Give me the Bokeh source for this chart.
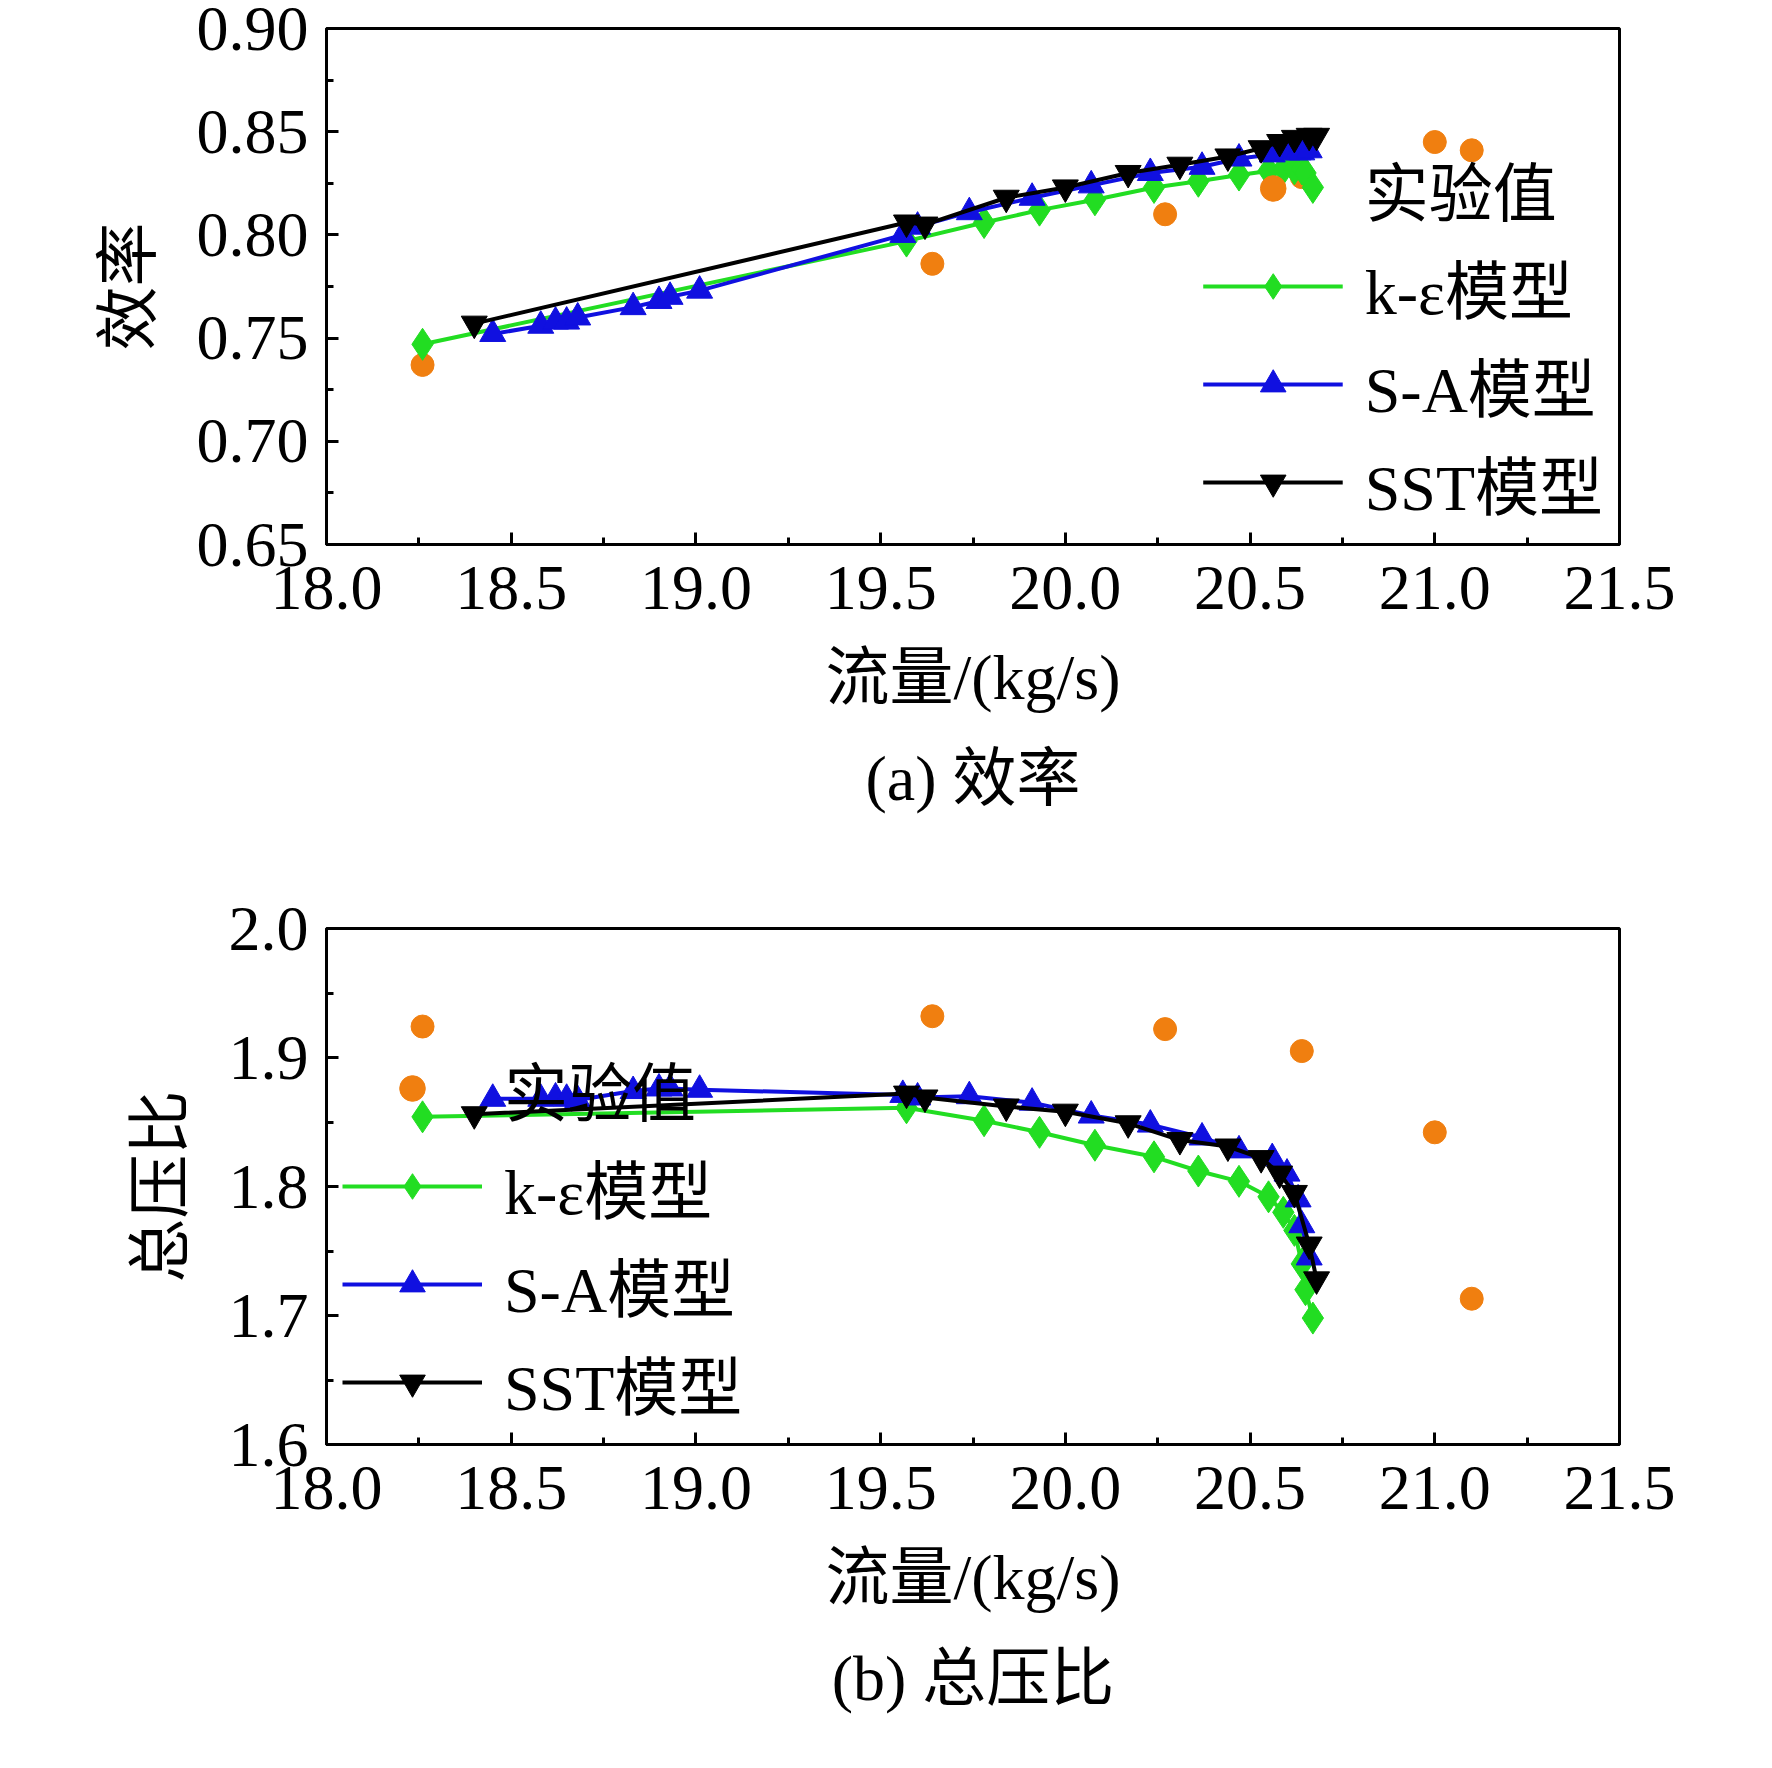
from bokeh.plotting import figure
from bokeh.layouts import column
from bokeh.models import Legend, LegendItem, Title, NumeralTickFormatter, FixedTicker
from bokeh.embed import file_html
from bokeh.resources import INLINE

exp_x = [18.26, 19.64, 20.27, 20.64, 21.0, 21.1]
exp_eff = [0.737, 0.786, 0.810, 0.828, 0.845, 0.841]
exp_pr = [1.924, 1.932, 1.922, 1.905, 1.842, 1.713]

ke_x = [18.26, 19.57, 19.78, 19.93, 20.08, 20.24, 20.36, 20.47, 20.55, 20.59, 20.62, 20.64, 20.65, 20.67]
ke_eff = [0.747, 0.797, 0.806, 0.812, 0.817, 0.823, 0.826, 0.829, 0.831, 0.832, 0.832, 0.832, 0.830, 0.823]
ke_pr = [1.854, 1.861, 1.851, 1.842, 1.832, 1.823, 1.812, 1.804, 1.792, 1.780, 1.766, 1.740, 1.720, 1.698]

sa_x = [18.45, 18.58, 18.62, 18.65, 18.68, 18.83, 18.90, 18.93, 19.01, 19.56, 19.60, 19.74, 19.91, 20.07, 20.23, 20.37, 20.47, 20.56, 20.60, 20.63, 20.64, 20.66]
sa_eff = [0.752, 0.756, 0.758, 0.758, 0.760, 0.765, 0.768, 0.770, 0.773, 0.800, 0.804, 0.811, 0.818, 0.824, 0.830, 0.833, 0.837, 0.839, 0.840, 0.840, 0.840, 0.841]
sa_pr = [1.868, 1.868, 1.869, 1.868, 1.867, 1.874, 1.876, 1.876, 1.875, 1.871, 1.869, 1.870, 1.865, 1.855, 1.848, 1.838, 1.828, 1.822, 1.810, 1.790, 1.770, 1.745]

sst_x = [18.40, 19.57, 19.62, 19.84, 20.00, 20.17, 20.31, 20.44, 20.53, 20.58, 20.62, 20.66, 20.68]
sst_eff = [0.757, 0.806, 0.805, 0.818, 0.823, 0.830, 0.834, 0.838, 0.842, 0.845, 0.847, 0.848, 0.848]
sst_pr = [1.856, 1.872, 1.869, 1.862, 1.858, 1.849, 1.836, 1.831, 1.822, 1.810, 1.795, 1.755, 1.728]

FONT = "Liberation Serif, Noto Sans CJK SC"
FS = "64px"

def panel(ylab, yr, yticks, yfmt, ke_y, sa_y, sst_y, exp_y, caption, legloc, top):
    p = figure(width=1756, height=880, x_range=(18.0, 21.5), y_range=yr,
               output_backend="svg", toolbar_location=None,
               min_border_left=326, min_border_right=137, min_border_top=top,
               min_border_bottom=880 - top - 516)
    p.background_fill_color = "white"
    p.grid.visible = False
    p.outline_line_color = "black"
    p.outline_line_width = 3
    p.xaxis.ticker = FixedTicker(ticks=[18.0, 18.5, 19.0, 19.5, 20.0, 20.5, 21.0, 21.5],
                                 minor_ticks=[18.25, 18.75, 19.25, 19.75, 20.25, 20.75, 21.25])
    p.yaxis.ticker = FixedTicker(ticks=yticks[0], minor_ticks=yticks[1])
    p.xaxis.formatter = NumeralTickFormatter(format="0.0")
    p.yaxis.formatter = NumeralTickFormatter(format=yfmt)
    for ax in (p.xaxis, p.yaxis):
        ax.major_label_text_font = FONT
        ax.major_label_text_font_size = FS
        ax.major_label_text_color = "black"
        ax.axis_label_text_font = FONT
        ax.axis_label_text_font_size = FS
        ax.axis_label_text_font_style = "normal"
        ax.axis_label_text_color = "black"
        ax.axis_line_width = 3
        ax.major_tick_in = 12
        ax.major_tick_out = 0
        ax.minor_tick_in = 7
        ax.minor_tick_out = 0
        ax.major_tick_line_width = 3
        ax.minor_tick_line_width = 3
    p.xaxis.major_label_standoff = 22
    p.yaxis.major_label_standoff = 18
    p.xaxis.axis_label = "流量/(kg/s)"
    p.yaxis.axis_label = ylab
    p.xaxis.axis_label_standoff = 30
    p.yaxis.axis_label_standoff = 30

    r_exp = p.scatter(exp_x, exp_y, marker="circle", size=23, color="#f07f10")
    l_ke = p.line(ke_x, ke_y, color="#22dd22", line_width=4)
    m_ke = p.scatter(ke_x, ke_y, marker="diamond", size=32, color="#22dd22")
    l_sa = p.line(sa_x, sa_y, color="#1010e0", line_width=4)
    m_sa = p.scatter(sa_x, sa_y, marker="triangle", size=26, color="#1010e0")
    l_sst = p.line(sst_x, sst_y, color="black", line_width=4)
    m_sst = p.scatter(sst_x, sst_y, marker="inverted_triangle", size=26, color="black")

    leg = Legend(items=[LegendItem(label="实验值", renderers=[r_exp]),
                        LegendItem(label="k-ε模型", renderers=[l_ke, m_ke]),
                        LegendItem(label="S-A模型", renderers=[l_sa, m_sa]),
                        LegendItem(label="SST模型", renderers=[l_sst, m_sst])],
                 location=legloc, background_fill_alpha=0, border_line_alpha=0,
                 label_text_font=FONT, label_text_font_size=FS, label_text_color="black",
                 glyph_width=140, glyph_height=64, spacing=6, label_standoff=22,
                 padding=4, margin=12)
    p.add_layout(leg)
    t = Title(text=caption, align="center", text_font=FONT, text_font_size=FS,
              text_font_style="normal", text_color="black", standoff=50)
    p.add_layout(t, "below")
    return p

p1 = panel("效率", (0.65, 0.90),
           ([0.65, 0.70, 0.75, 0.80, 0.85, 0.90], [0.675, 0.725, 0.775, 0.825, 0.875]),
           "0.00", ke_eff, sa_eff, sst_eff, exp_eff, "(a) 效率", "bottom_right", 28)
p2 = panel("总压比", (1.6, 2.0),
           ([1.6, 1.7, 1.8, 1.9, 2.0], [1.65, 1.75, 1.85, 1.95]),
           "0.0", ke_pr, sa_pr, sst_pr, exp_pr, "(b) 总压比", "bottom_left", 48)

layout = column(p1, p2, spacing=0)
open("out.html", "w").write(file_html(layout, INLINE))
